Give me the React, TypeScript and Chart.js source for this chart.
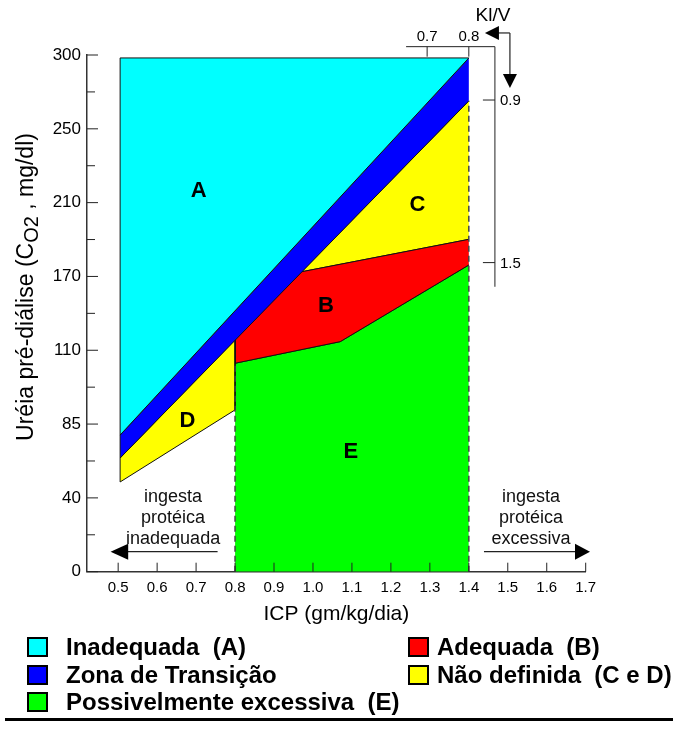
import React, { useEffect, useRef } from 'react';
import { Chart, registerables } from 'chart.js';

Chart.register(...registerables);

const FONT = '"Liberation Sans", Arial, Helvetica, sans-serif';

// Y axis: evenly spaced (non-linear) urea tick labels, mg/dl
const yTickLabels = [0, 40, 85, 110, 170, 210, 250, 300];
// X axis ticks: ICP (g/kg/dia)
const xTicks = [0.5, 0.6, 0.7, 0.8, 0.9, 1.0, 1.1, 1.2, 1.3, 1.4, 1.5, 1.6, 1.7];

// Regions (ICP, urea mg/dl) polygon vertices; an open path is closed by the fill
const regionAIcp = [0.505, 1.4, 0.505, 0.505];
const regionAUrea = [298, 298, 78.3, 298];

const transIcp = [1.4, 0.505, 0.505, 1.4];
const transUrea = [268.9, 64.3, 78.3, 298];

const regionDIcp = [0.505, 0.8, 0.8, 0.505, 0.505];
const regionDUrea = [64.3, 118.6, 89.8, 49.7, 64.3];

const regionBIcp = [1.4, 0.97, 0.8, 0.8, 1.07, 1.4];
const regionBUrea = [190.1, 172.5, 118.6, 105.6, 117, 176.2];

const regionCIcp = [1.4, 0.97, 1.4];
const regionCUrea = [268.9, 172.5, 190.1];

// upper edge of E (filled down to zero)
const regionEIcp = [0.8, 1.07, 1.4];
const regionEUrea = [105.6, 117, 176.2];

// dashed limits
const dashLow = [0, 105.6];
const dashHigh = [0, 268.9];

// Kt/V secondary scales
const ktvTopLabels = ['0.7', '0.8'];
const ktvTopIcp = [1.293, 1.4];
const ktvRightLabels = ['0.9', '1.5'];
const ktvRightUrea = [269.5, 177.5];

// region letters
const letters = ['A', 'B', 'C', 'D', 'E'];
const letterIcp = [0.707, 1.033, 1.268, 0.678, 1.097];
const letterUrea = [216.8, 146.8, 209.3, 86.5, 68.6];

const legendLabels = [
  'Inadequada  (A)',
  'Zona de Transição',
  'Possivelmente excessiva  (E)',
  'Adequada  (B)',
  'Não definida  (C e D)',
];
const legendColors = ['#00FFFF', '#0000FF', '#00FF00', '#FF0000', '#FFFF00'];

function toIdx(u: number): number {
  const t = yTickLabels;
  for (let i = 0; i < t.length - 1; i++) {
    if (u <= t[i + 1] || i === t.length - 2) {
      return i + (u - t[i]) / (t[i + 1] - t[i]);
    }
  }
  return 0;
}

function pts(icp: number[], urea: number[]) {
  return icp.map((x, i) => ({ x, y: toIdx(urea[i]) }));
}

function polygon(label: string, icp: number[], urea: number[], color: string, fill: any = 'shape') {
  return {
    label,
    data: pts(icp, urea),
    showLine: true,
    fill,
    backgroundColor: color,
    borderColor: '#111',
    borderWidth: 1,
    pointRadius: 0,
    tension: 0,
  };
}

function dashed(x: number, urea: number[]) {
  return {
    label: 'limit',
    data: urea.map((u) => ({ x, y: toIdx(u) })),
    showLine: true,
    fill: false,
    borderColor: '#444',
    borderWidth: 1.5,
    borderDash: [6, 4],
    pointRadius: 0,
  };
}

const decor = {
  id: 'decor',
  afterDraw(chart: any) {
    const ctx = chart.ctx as CanvasRenderingContext2D;
    const xs = chart.scales.x;
    const ys = chart.scales.y;
    const X = (v: number) => xs.getPixelForValue(v);
    const YI = (i: number) => ys.getPixelForValue(i);
    const Y = (u: number) => ys.getPixelForValue(toIdx(u));
    const area = chart.chartArea;
    const line = (x1: number, y1: number, x2: number, y2: number) => {
      ctx.beginPath();
      ctx.moveTo(x1, y1);
      ctx.lineTo(x2, y2);
      ctx.stroke();
    };
    const tri = (p: number[][]) => {
      ctx.beginPath();
      ctx.moveTo(p[0][0], p[0][1]);
      ctx.lineTo(p[1][0], p[1][1]);
      ctx.lineTo(p[2][0], p[2][1]);
      ctx.closePath();
      ctx.fill();
    };
    ctx.save();
    ctx.strokeStyle = '#222';
    ctx.fillStyle = '#000';
    ctx.lineWidth = 1;

    // inward ticks
    const yb = area.bottom;
    xTicks.forEach((v) => line(X(v), yb, X(v), yb - 9));
    const xl = area.left;
    for (let i = 0; i < yTickLabels.length; i++) line(xl, YI(i), xl + 11, YI(i));
    for (let i = 0; i < yTickLabels.length - 1; i++) line(xl, YI(i + 0.5), xl + 8, YI(i + 0.5));

    // Kt/V axes
    const ax = X(1.467);
    const topY = YI(7.113);
    line(X(1.239), topY, ax, topY);
    line(ax, topY, ax, YI(3.86));
    ctx.font = `15px ${FONT}`;
    ctx.textAlign = 'center';
    ctx.textBaseline = 'middle';
    ktvTopIcp.forEach((v, i) => {
      line(X(v), topY, X(v), topY + 10);
      ctx.fillText(ktvTopLabels[i], X(v), topY - 10);
    });
    ctx.textAlign = 'left';
    ktvRightUrea.forEach((u, i) => {
      line(ax - 12, Y(u), ax, Y(u));
      ctx.fillText(ktvRightLabels[i], ax + 5, Y(u) + 1);
    });
    // Kt/V title
    ctx.font = `19px ${FONT}`;
    ctx.textAlign = 'center';
    ctx.fillText('Kl/V', ax - 2, topY - 31);
    // elbow arrow
    const ay = topY - 13.7;
    ctx.lineWidth = 1.2;
    line(ax + 3, ay, ax + 15, ay);
    line(ax + 15, ay, ax + 15, ay + 42);
    tri([[ax - 10, ay], [ax + 4, ay - 7], [ax + 4, ay + 7]]);
    tri([[ax + 15, ay + 55], [ax + 8, ay + 41], [ax + 22, ay + 41]]);

    // ingesta annotations
    ctx.font = `18px ${FONT}`;
    ctx.fillStyle = '#111';
    const rows = [1.012, 0.727, 0.442];
    const leftText = ['ingesta', 'protéica', 'inadequada'];
    const rightText = ['ingesta', 'protéica', 'excessiva'];
    rows.forEach((r, i) => {
      ctx.fillText(leftText[i], X(0.641), YI(r));
      ctx.fillText(rightText[i], X(1.5596), YI(r));
    });
    ctx.fillStyle = '#000';
    const arY = YI(0.271);
    ctx.lineWidth = 1.2;
    line(X(0.52), arY, X(0.7552), arY);
    tri([[X(0.4805), arY], [X(0.5257), arY - 8], [X(0.5257), arY + 8]]);
    line(X(1.4389), arY, X(1.68), arY);
    tri([[X(1.711), arY], [X(1.6725), arY - 8], [X(1.6725), arY + 8]]);

    // region letters
    ctx.font = `bold 22px ${FONT}`;
    letters.forEach((l, i) => ctx.fillText(l, X(letterIcp[i]), Y(letterUrea[i]) + 1));

    // x title
    ctx.font = `21px ${FONT}`;
    ctx.textBaseline = 'alphabetic';
    ctx.fillText('ICP (gm/kg/dia)', (area.left + area.right) / 2, 620);

    // y title with subscript
    ctx.save();
    ctx.translate(33, 287);
    ctx.rotate(-Math.PI / 2);
    ctx.textAlign = 'left';
    const p1 = 'Uréia pré-diálise (C';
    const p2 = 'O2';
    const p3 = ' , mg/dl)';
    ctx.font = `23px ${FONT}`;
    const w1 = ctx.measureText(p1).width;
    const w3 = ctx.measureText(p3).width;
    ctx.font = `20px ${FONT}`;
    const w2 = ctx.measureText(p2).width;
    let sx = -(w1 + w2 + w3) / 2;
    ctx.font = `23px ${FONT}`;
    ctx.fillText(p1, sx, 0);
    sx += w1;
    ctx.font = `20px ${FONT}`;
    ctx.fillText(p2, sx, 5);
    sx += w2;
    ctx.font = `23px ${FONT}`;
    ctx.fillText(p3, sx, 0);
    ctx.restore();

    // legend
    const rowY = [647, 675, 702];
    const items = [
      [28, 66, 0],
      [28, 66, 1],
      [28, 66, 2],
      [409, 437, 0],
      [409, 437, 1],
    ];
    ctx.font = `bold 24px ${FONT}`;
    ctx.textAlign = 'left';
    ctx.textBaseline = 'middle';
    items.forEach((it, i) => {
      const [bx, tx, r] = it;
      const cy = rowY[r];
      ctx.fillStyle = legendColors[i];
      ctx.fillRect(bx, cy - 9, 19, 18);
      ctx.lineWidth = 2;
      ctx.strokeStyle = '#000';
      ctx.strokeRect(bx, cy - 9, 19, 18);
      ctx.fillStyle = '#000';
      ctx.fillText(legendLabels[i], tx, cy + 1);
    });
    // bottom rule
    ctx.fillRect(5, 718, 668, 3);
    ctx.restore();
  },
};

export default function App() {
  const ref = useRef<HTMLCanvasElement | null>(null);
  useEffect(() => {
    if (!ref.current) return;
    const chart = new Chart(ref.current, {
      type: 'scatter',
      data: {
        datasets: [
          dashed(0.8, dashLow),
          dashed(1.4, dashHigh),
          polygon('Inadequada (A)', regionAIcp, regionAUrea, '#00FFFF'),
          polygon('Zona de Transição', transIcp, transUrea, '#0000FF'),
          polygon('D', regionDIcp, regionDUrea, '#FFFF00'),
          polygon('Adequada (B)', regionBIcp, regionBUrea, '#FF0000'),
          polygon('C', regionCIcp, regionCUrea, '#FFFF00'),
          polygon('Possivelmente excessiva (E)', regionEIcp, regionEUrea, '#00FF00', 'origin'),
        ] as any,
      },
      options: {
        animation: false,
        responsive: false,
        maintainAspectRatio: false,
        layout: { padding: { left: 0, top: 55, right: 90.3, bottom: 0 } },
        plugins: { legend: { display: false }, tooltip: { enabled: false } },
        scales: {
          x: {
            type: 'linear',
            min: 0.42,
            max: 1.7,
            afterBuildTicks: (s: any) => {
              s.ticks = xTicks.map((v) => ({ value: v }));
            },
            afterFit: (s: any) => {
              s.height = 159.3;
            },
            ticks: {
              autoSkip: false,
              maxRotation: 0,
              padding: 7,
              color: '#000',
              font: { family: FONT, size: 15 },
              callback: (v: any) => Number(v).toFixed(1),
            },
            grid: { display: false, drawTicks: false },
            border: { display: true, color: '#333', width: 1.5 },
          },
          y: {
            type: 'linear',
            min: 0,
            max: 7,
            afterFit: (s: any) => {
              s.width = 87;
            },
            ticks: {
              stepSize: 1,
              padding: 6,
              color: '#000',
              font: { family: FONT, size: 17 },
              callback: (v: any) => String(yTickLabels[Math.round(Number(v))]),
            },
            grid: { display: false, drawTicks: false },
            border: { display: true, color: '#333', width: 1.5 },
          },
        },
      },
      plugins: [decor],
    } as any);
    return () => chart.destroy();
  }, []);
  return (
    <div style={{ position: 'absolute', left: 0, top: 0, width: 676, height: 731, background: '#fff' }}>
      <canvas ref={ref} width={676} height={731} style={{ display: 'block' }} />
    </div>
  );
}
